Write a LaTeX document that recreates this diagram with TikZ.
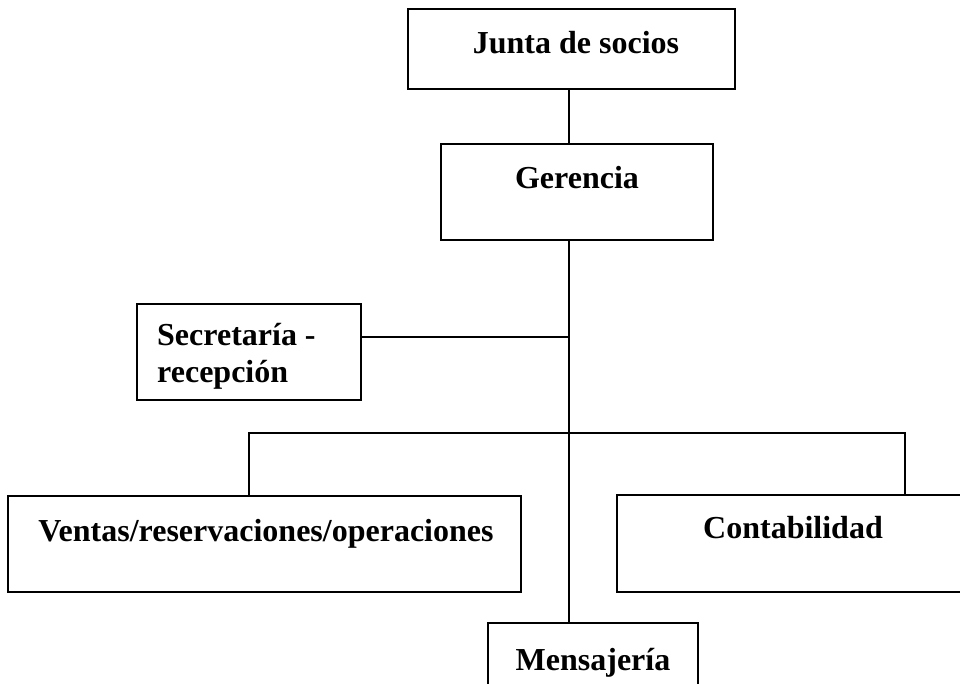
\documentclass[tikz,border=0pt]{standalone}
\usepackage{fontspec}
\setmainfont{Liberation Serif}
\begin{document}
\begin{tikzpicture}[x=1pt,y=-1pt,
  box/.style={draw=black, line width=1.6pt, rectangle, inner sep=0pt, fill=none},
  lbl/.style={inner sep=0pt, font=\fontsize{32}{37}\selectfont\bfseries},
  conn/.style={draw=black, line width=1.6pt}]
\useasboundingbox[fill=white] (0,0) rectangle (960,684);
\clip (0,0) rectangle (960,684);
% boxes
\node[box, minimum width=327pt, minimum height=80pt] (junta) at (571.5,49) {};
\node[box, minimum width=272pt, minimum height=96pt] (ger) at (577,192) {};
\node[box, minimum width=224pt, minimum height=96pt] (sec) at (249,352) {};
\node[box, minimum width=513pt, minimum height=96pt] (ventas) at (264.5,544) {};
\node[box, minimum width=352pt, minimum height=97pt] (cont) at (793,543.5) {};
\node[box, minimum width=210pt, minimum height=97pt] (mens) at (593,671.5) {};
% labels
\node[lbl, anchor=base] (tjunta) at (576,54) {Junta de socios};
\node[lbl, anchor=base] (tger) at (577,189) {Gerencia};
\node[lbl, anchor=base west, align=left] (tsec) at (157,382) {Secretaría -\\recepción};
\node[lbl, anchor=base] (tventas) at (266,541) {Ventas/reservaciones/operaciones};
\node[lbl, anchor=base] (tcont) at (793,538) {Contabilidad};
\node[lbl, anchor=base] (tmens) at (593,670) {Mensajería};
% junction coordinates
\coordinate (spine) at (569,0);
\coordinate (secj) at (569,337);
\coordinate (barL) at (249,433);
\coordinate (barR) at (905,433);
% connectors
\draw[conn] (junta.south -| spine) -- (ger.north -| spine);
\draw[conn] (ger.south -| spine) -- (mens.north -| spine);
\draw[conn] (secj -| sec.east) -- (secj);
\draw[conn] (ventas.north -| barL) -- (barL) -- (barR) -- (cont.north -| barR);
\end{tikzpicture}
\end{document}
